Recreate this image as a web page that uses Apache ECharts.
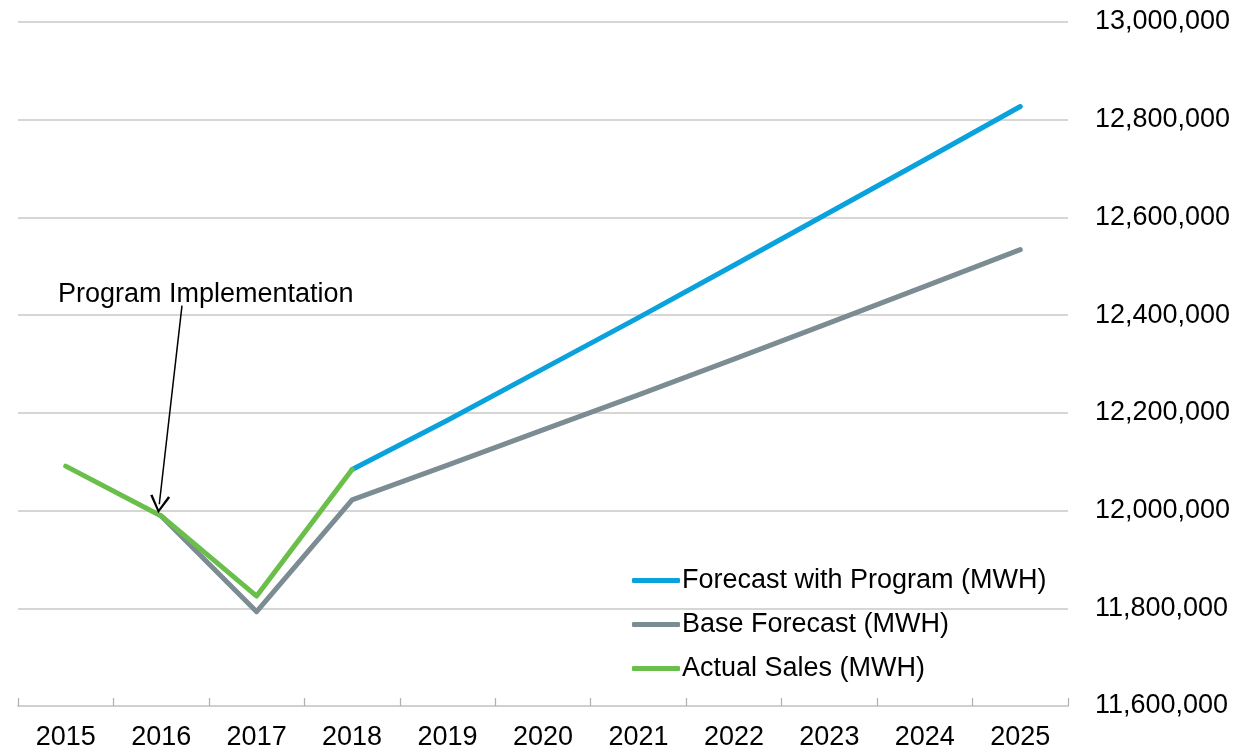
<!DOCTYPE html>
<html>
<head>
<meta charset="utf-8">
<script src="https://cdn.jsdelivr.net/npm/echarts@6/dist/echarts.min.js"></script>
<style>
html,body{margin:0;padding:0;background:#fff;}
#chart{width:1255px;height:751px;}
</style>
</head>
<body>
<div id="chart"></div>
<script>
const years = ['2015','2016','2017','2018','2019','2020','2021','2022','2023','2024','2025'];
const forecastWithProgram = [null, null, null, 12084000, 12185000, 12290000, 12395000, 12502000, 12610000, 12718000, 12827000];
const baseForecast = [null, 11989000, 11793000, 12022000, 12093000, 12165000, 12237000, 12310000, 12384000, 12459000, 12534000];
const actualSales = [12091000, 11989000, 11825000, 12084000, null, null, null, null, null, null, null];
const yTicks = [11600000, 11800000, 12000000, 12200000, 12400000, 12600000, 12800000, 13000000];
const annotationText = 'Program Implementation';
// arrow from (category index, value) to (category index, value)
const arrowFrom = [1.218, 12419600];
const arrowTo = [0.98, 12012900];

const FONT = '"Liberation Sans", Arial, sans-serif';
const FS = 27;
const chart = echarts.init(document.getElementById('chart'));
const arrowHead = 'path://M0,10 L5,0 L10,10 L8.9,10.7 L5,2.4 L1.1,10.7 Z';

chart.setOption({
  animation: false,
  backgroundColor: '#ffffff',
  textStyle: {fontFamily: FONT},
  title: {
    text: annotationText,
    left: 58, top: 281, padding: 0,
    textStyle: {fontFamily: FONT, fontSize: FS, fontWeight: 'normal', color: '#000'}
  },
  grid: {left: 18, right: 187, top: 22, bottom: 44, containLabel: false},
  legend: {
    data: ['Forecast with Program (MWH)', 'Base Forecast (MWH)', 'Actual Sales (MWH)'],
    orient: 'vertical',
    left: 632, top: 567,
    itemWidth: 48, itemHeight: 5, itemGap: 17,
    icon: 'roundRect',
    padding: 0,
    textStyle: {fontFamily: FONT, fontSize: FS, color: '#000', padding: [0, 0, 0, -3]}
  },
  xAxis: [{
    type: 'category',
    data: years,
    boundaryGap: true,
    axisLine: {show: true, lineStyle: {color: '#d0d0d0', width: 2}},
    axisTick: {show: true, inside: true, length: 8, alignWithLabel: false, lineStyle: {color: '#b0b0b0', width: 1.2}},
    axisLabel: {fontFamily: FONT, fontSize: FS, color: '#000', margin: 18, interval: 0},
    splitLine: {show: false}
  }, {
    type: 'value', min: -0.5, max: 10.5, show: false, position: 'top'
  }],
  yAxis: {
    type: 'value',
    position: 'right',
    min: yTicks[0], max: yTicks[yTicks.length - 1], interval: 200000,
    axisLine: {show: false},
    axisTick: {show: false},
    axisLabel: {fontFamily: FONT, fontSize: FS, color: '#000', margin: 27,
      formatter: v => v.toLocaleString('en-US')},
    splitLine: {show: true, lineStyle: {color: '#c8c8c8', width: 1.5}}
  },
  series: [
    {
      name: 'Forecast with Program (MWH)', type: 'line', data: forecastWithProgram,
      showSymbol: false, symbol: 'none', connectNulls: false,
      lineStyle: {color: '#0aa2dd', width: 5, cap: 'round', join: 'round'},
      itemStyle: {color: '#0aa2dd'}
    },
    {
      name: 'Base Forecast (MWH)', type: 'line', data: baseForecast,
      showSymbol: false, symbol: 'none',
      lineStyle: {color: '#7c8c93', width: 5, cap: 'round', join: 'round'},
      itemStyle: {color: '#7c8c93'}
    },
    {
      name: 'Actual Sales (MWH)', type: 'line', data: actualSales,
      showSymbol: false, symbol: 'none',
      lineStyle: {color: '#6abf4b', width: 5, cap: 'round', join: 'round'},
      itemStyle: {color: '#6abf4b'}
    },
    {
      name: 'annotation', type: 'line', xAxisIndex: 1, yAxisIndex: 0, data: [],
      silent: true, symbol: 'none',
      markLine: {
        silent: true, animation: false,
        symbol: ['none', arrowHead], symbolSize: [20, 18],
        label: {show: false},
        lineStyle: {color: '#000', width: 1.5, type: 'solid'},
        emphasis: {disabled: true},
        data: [[{coord: arrowFrom}, {coord: arrowTo}]]
      }
    }
  ]
});
</script>
</body>
</html>
